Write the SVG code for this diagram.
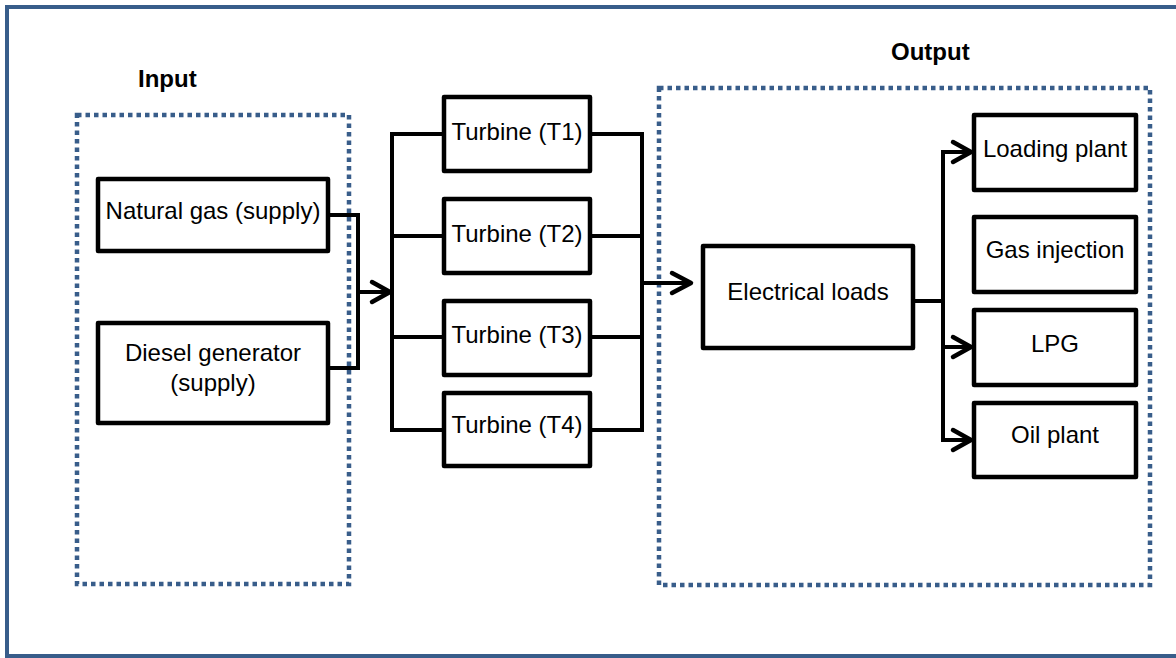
<svg xmlns="http://www.w3.org/2000/svg" width="1176" height="658" viewBox="0 0 1176 658">
<style>
.box{fill:#fff;stroke:#000;stroke-width:4.5;stroke-linejoin:round}
.grp{fill:none;stroke:#385d8a;stroke-width:4.5;stroke-dasharray:4.5 4}
.t{font-family:"Liberation Sans",Arial,sans-serif;font-size:24px;fill:#000;text-anchor:middle}
.h{font-family:"Liberation Sans",Arial,sans-serif;font-size:24px;font-weight:bold;fill:#000}
.c{fill:none;stroke:#000;stroke-width:4;stroke-linejoin:miter}
.a{fill:none;stroke:#000;stroke-width:4.5;stroke-linecap:round;stroke-linejoin:round}
</style>
<rect x="0" y="0" width="1176" height="658" fill="#fff"/>
<path d="M1180,7 H7 V656 H1180" fill="none" stroke="#385d8a" stroke-width="4"/>
<g id="input-group">
<rect class="grp" x="77" y="115" width="272" height="469"/>
<text class="h" x="138" y="87">Input</text>
</g>
<g id="output-group">
<rect class="grp" x="659" y="88" width="491" height="497"/>
<text class="h" x="891" y="60">Output</text>
</g>
<g id="connectors">
<path class="c" d="M328,215 H358 V368 H328"/>
<path class="c" d="M358,292 H390"/>
<path class="a" d="M372,282 L390,292 L372,302"/>
<path class="c" d="M444,134 H392 V430 H444 M392,236 H444 M392,337 H444"/>
<path class="c" d="M590,134 H642 V430 H590 M590,236 H642 M590,337 H642"/>
<path class="c" d="M642,283 H690"/>
<path class="a" d="M672,273 L691,283 L672,293"/>
<path class="c" d="M913,301 H943 M970,152 H943 V440 H970 M943,347 H970"/>
<path class="a" d="M953,142 L971,152 L953,162"/>
<path class="a" d="M953,337 L971,347 L953,357"/>
<path class="a" d="M953,430 L971,440 L953,450"/>
</g>
<g id="natural-gas"><rect class="box" x="98" y="179" width="230" height="72"/><text class="t" x="213" y="219">Natural gas (supply)</text></g>
<g id="diesel"><rect class="box" x="98" y="323" width="230" height="100"/><text class="t" x="213" y="361">Diesel generator</text><text class="t" x="213" y="391">(supply)</text></g>
<g id="t1"><rect class="box" x="444" y="97" width="146" height="74"/><text class="t" x="517" y="140">Turbine (T1)</text></g>
<g id="t2"><rect class="box" x="444" y="199" width="146" height="74"/><text class="t" x="517" y="242">Turbine (T2)</text></g>
<g id="t3"><rect class="box" x="444" y="301" width="146" height="74"/><text class="t" x="517" y="343">Turbine (T3)</text></g>
<g id="t4"><rect class="box" x="444" y="393" width="146" height="73"/><text class="t" x="517" y="433">Turbine (T4)</text></g>
<g id="electrical-loads"><rect class="box" x="703" y="246" width="210" height="102"/><text class="t" x="808" y="300">Electrical loads</text></g>
<g id="loading-plant"><rect class="box" x="974" y="115" width="162" height="75"/><text class="t" x="1055" y="157">Loading plant</text></g>
<g id="gas-injection"><rect class="box" x="974" y="217" width="162" height="75"/><text class="t" x="1055" y="258">Gas injection</text></g>
<g id="lpg"><rect class="box" x="974" y="310" width="162" height="75"/><text class="t" x="1055" y="352">LPG</text></g>
<g id="oil-plant"><rect class="box" x="974" y="403" width="162" height="74"/><text class="t" x="1055" y="443">Oil plant</text></g>
</svg>
